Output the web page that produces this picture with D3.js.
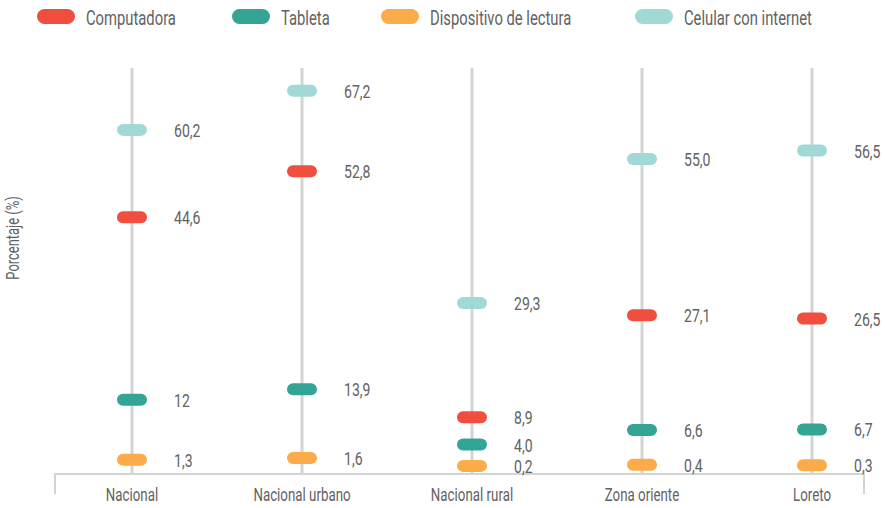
<!DOCTYPE html>
<html>
<head>
<meta charset="utf-8">
<script src="https://cdn.jsdelivr.net/npm/d3@7"></script>
<style>
  body { margin: 0; background: #fff; }
  svg text { font-family: "Roboto", "DejaVu Sans", sans-serif; fill: #626262; }
</style>
</head>
<body>
<div id="chart"></div>
<script>
(function () {
  // categories and series
  const categories = ["Nacional", "Nacional urbano", "Nacional rural", "Zona oriente", "Loreto"];
  const seriesNames = ["Computadora", "Tableta", "Dispositivo de lectura", "Celular con internet"];
  const seriesColors = ["#f04e3e", "#34a595", "#fbab4a", "#a1d9d6"];

  const computadora = [44.6, 52.8, 8.9, 27.1, 26.5];
  const tableta = [12, 13.9, 4.0, 6.6, 6.7];
  const lectura = [1.3, 1.6, 0.2, 0.4, 0.3];
  const celular = [60.2, 67.2, 29.3, 55.0, 56.5];
  const valueLabels = [
    ["44,6", "52,8", "8,9", "27,1", "26,5"],
    ["12", "13,9", "4,0", "6,6", "6,7"],
    ["1,3", "1,6", "0,2", "0,4", "0,3"],
    ["60,2", "67,2", "29,3", "55,0", "56,5"]
  ];
  const seriesValues = [computadora, tableta, lectura, celular];

  const width = 885, height = 508;
  const narrow = 0.74; // squeeze text horizontally, no condensed font installed
  const svg = d3.select("#chart").append("svg")
    .attr("width", width)
    .attr("height", height);

  const x = d3.scaleBand().domain(categories).range([47, 897]);
  const y = d3.scaleLinear().domain([0, 70]).range([467, 75]);
  const cx = d => x(d) + x.bandwidth() / 2;
  const baseY = 474;

  // vertical guide lines
  svg.append("g").selectAll("line")
    .data(categories)
    .join("line")
    .attr("x1", cx).attr("x2", cx)
    .attr("y1", 68).attr("y2", baseY)
    .attr("stroke", "#d4d4d4")
    .attr("stroke-width", 3);

  // baseline with end ticks
  const axisX0 = cx(categories[0]) - 77;
  const axisX1 = cx(categories[categories.length - 1]) + 52;
  svg.append("path")
    .attr("d", `M${axisX0},${baseY + 20}V${baseY}H${axisX1}V${baseY + 20}`)
    .attr("fill", "none")
    .attr("stroke", "#d4d4d4")
    .attr("stroke-width", 2);

  // category labels
  svg.append("g").selectAll("text")
    .data(categories)
    .join("text")
    .attr("transform", d => `translate(${cx(d)},501) scale(${narrow},1)`)
    .attr("text-anchor", "middle")
    .attr("font-size", 18)
    .text(d => d);

  // markers + value labels
  seriesValues.forEach((vals, s) => {
    const g = svg.append("g");
    g.selectAll("rect")
      .data(vals)
      .join("rect")
      .attr("x", (d, i) => cx(categories[i]) - 15)
      .attr("y", d => y(d) - 6)
      .attr("width", 30)
      .attr("height", 12)
      .attr("rx", 6)
      .attr("fill", seriesColors[s]);
    g.selectAll("text")
      .data(vals)
      .join("text")
      .attr("transform", (d, i) => `translate(${cx(categories[i]) + 42},${y(d) + 7}) scale(${narrow},1)`)
      .attr("font-size", 19)
      .text((d, i) => valueLabels[s][i]);
  });

  // y axis title
  svg.append("text")
    .attr("transform", `translate(19,238) rotate(-90) scale(${narrow},1)`)
    .attr("text-anchor", "middle")
    .attr("font-size", 17.5)
    .text("Porcentaje (%)");

  // legend
  const legendX = [37, 232, 381, 635];
  const legend = svg.append("g").selectAll("g")
    .data(seriesNames)
    .join("g")
    .attr("transform", (d, i) => `translate(${legendX[i]},17)`);
  legend.append("rect")
    .attr("x", 0).attr("y", -8)
    .attr("width", 38).attr("height", 15)
    .attr("rx", 7.5)
    .attr("fill", (d, i) => seriesColors[i]);
  legend.append("text")
    .attr("transform", `translate(49,8) scale(${narrow},1)`)
    .attr("font-size", 20)
    .text(d => d);
})();
</script>
</body>
</html>
